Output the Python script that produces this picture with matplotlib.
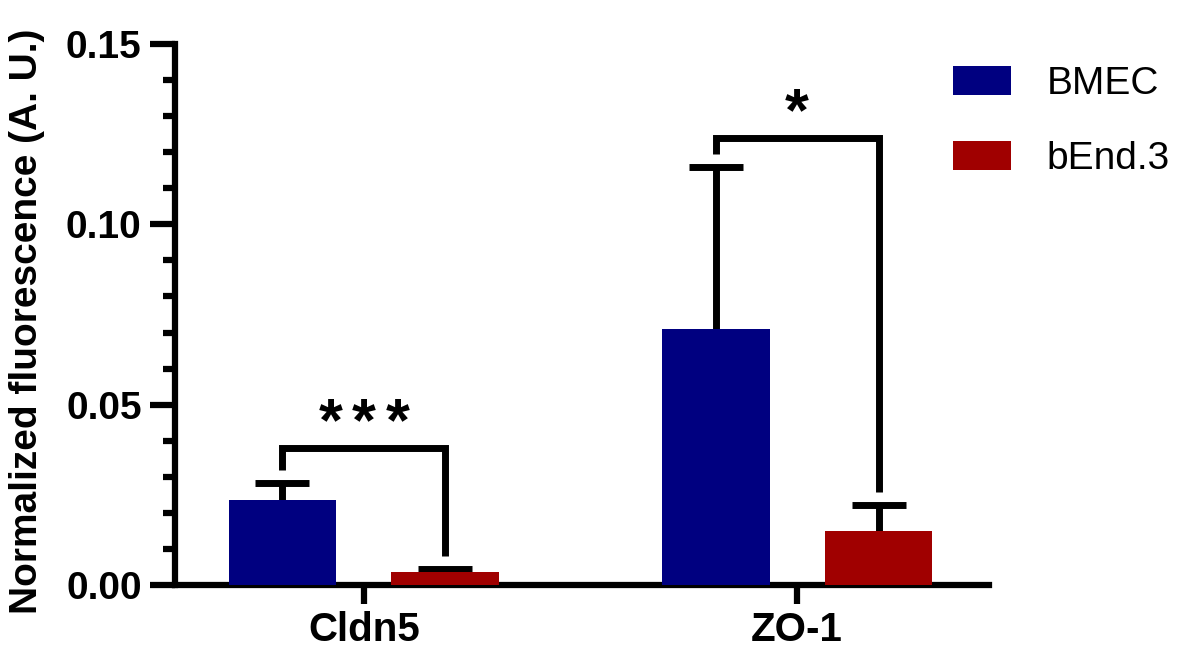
import matplotlib
matplotlib.use("Agg")
import matplotlib.pyplot as plt
import numpy as np

# Data
categories = ["Cldn5", "ZO-1"]
groups = ["BMEC", "bEnd.3"]
bmec_mean = [0.0236, 0.0710]
bmec_err = [0.0047, 0.0449]
bend_mean = [0.0036, 0.0150]
bend_err = [0.0008, 0.0072]
sig_stars = [3, 1]
bracket_tops = [0.0380, 0.1240]
colors = ["#000080", "#A00000"]

plt.rcParams["font.family"] = ["Liberation Sans", "DejaVu Sans"]

fig = plt.figure(figsize=(11.85, 6.51), dpi=100)
ax = fig.add_axes([0.1477, 0.1014, 0.8346 - 0.1477, 0.9324 - 0.1014])

x = np.arange(len(categories))
offset = 0.188
width = 0.249
lw = 4.5

series = [(bmec_mean, bmec_err), (bend_mean, bend_err)]
for i, (means, errs) in enumerate(series):
    xs = x + (-offset if i == 0 else offset)
    eb = ax.errorbar(xs, means, yerr=[np.zeros(len(errs)), errs], fmt="none",
                     ecolor="black", elinewidth=5, capsize=19.5, capthick=5,
                     zorder=2)
    # only the upper cap is shown
    eb[1][0].set_visible(False)
    ax.bar(xs, means, width=width, color=colors[i], label=groups[i], zorder=3)

# Significance brackets with asterisks
gap = 0.0035
star_step = 24  # points between asterisk centres
for j in range(len(categories)):
    xl = x[j] - offset
    xr = x[j] + offset
    yl = bmec_mean[j] + bmec_err[j] + gap
    yr = bend_mean[j] + bend_err[j] + gap
    top = bracket_tops[j]
    ax.plot([xl, xl, xr, xr], [yl, top, top, yr], color="black", lw=5,
            solid_joinstyle="miter", solid_capstyle="butt", zorder=4)
    n = sig_stars[j]
    for k in range(n):
        dx = (k - (n - 1) / 2) * star_step
        ax.annotate("*", xy=(x[j], top - 0.0015), xytext=(dx, 0),
                    textcoords="offset points", ha="center", va="bottom",
                    fontsize=44, fontweight="bold")

ax.set_xlim(-0.436, 1.443)
ax.set_ylim(0, 0.15)
ax.spines["top"].set_visible(False)
ax.spines["right"].set_visible(False)
for s in ["left", "bottom"]:
    ax.spines[s].set_linewidth(lw)
ax.spines["left"].set_bounds(0, 0.15)

ax.set_yticks([0, 0.05, 0.10, 0.15])
ax.set_yticklabels(["0.00", "0.05", "0.10", "0.15"])
ax.set_yticks(np.arange(0.01, 0.15, 0.01), minor=True)
ax.set_xticks(x)
ax.set_xticklabels(categories)
ax.tick_params(axis="y", which="major", length=18, width=lw, labelsize=28, pad=6)
ax.tick_params(axis="y", which="minor", length=9, width=lw)
ax.tick_params(axis="x", which="major", length=14, width=lw, labelsize=29, pad=5)
for t in ax.get_xticklabels() + ax.get_yticklabels():
    t.set_fontweight("bold")

fig.text(27 / 1185, 0.507, "Normalized fluorescence (A. U.)", rotation=90,
         ha="center", va="center", fontsize=28, fontweight="bold")

leg = fig.legend(loc="upper left", bbox_to_anchor=(953 / 1185, 1 - 66 / 651),
                 frameon=False, fontsize=28, handlelength=1.5, handleheight=0.75,
                 handletextpad=0.9, labelspacing=1.0, borderpad=0, borderaxespad=0)

fig.savefig("out.png", dpi=100)
